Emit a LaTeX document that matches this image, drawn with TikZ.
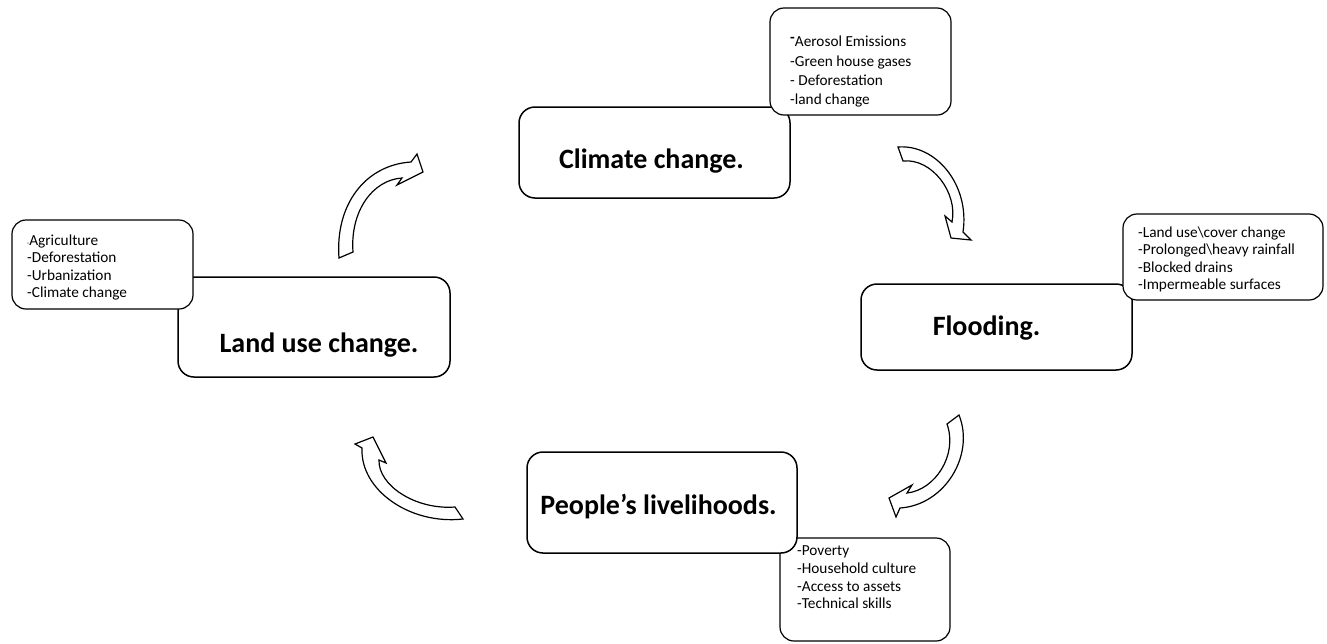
\documentclass[tikz,border=0pt]{standalone}
\usepackage{fontspec}
\setmainfont{Carlito}
\begin{document}
\begin{tikzpicture}[x=1pt,y=-1pt,
  mainbox/.style={draw, line width=1.5pt, rounded corners=16pt, fill=white, inner sep=0pt},
  notebox/.style={draw, line width=1.2pt, rounded corners=14pt, fill=white, inner sep=0pt},
  title/.style={font=\fontsize{28}{30}\selectfont\bfseries, anchor=base, inner sep=0pt},
  note/.style={font=\fontsize{15.3}{18}\selectfont, anchor=base west, inner sep=0pt},
  blockarrow/.style={draw, line width=1.2pt, fill=white, line join=miter}]
\useasboundingbox (0,0) rectangle (1327,643);

% Climate change with its causes
\node[mainbox, minimum width=271pt, minimum height=91pt] (climate) at (654.5,152.5) {};
\node[title] (climateT) at (651.5,168) {Climate change.};
\node[notebox, minimum width=181pt, minimum height=107pt] (climateN) at (860.5,61.5) {};
\node[note] (cn1) at (790,46) {\raisebox{4pt}{\bfseries -}Aerosol Emissions};
\node[note] (cn2) at (790,66) {-Green house gases};
\node[note] (cn3) at (790,85) {- Deforestation};
\node[note] (cn4) at (790,104) {-land change};

% Flooding with its causes
\node[mainbox, minimum width=271pt, minimum height=86pt] (flood) at (996.5,327) {};
\node[title] (floodT) at (986.5,335) {Flooding.};
\node[notebox, minimum width=200pt, minimum height=86pt] (floodN) at (1223,257) {};
\node[note] (fn1) at (1138,237) {-Land use\textbackslash cover change};
\node[note] (fn2) at (1138,254.5) {-Prolonged\textbackslash heavy rainfall};
\node[note] (fn3) at (1138,272) {-Blocked drains};
\node[note] (fn4) at (1138,289.5) {-Impermeable surfaces};

% People's livelihoods with its factors
\node[notebox, minimum width=170pt, minimum height=103pt] (peopleN) at (865,589.5) {};
\node[mainbox, minimum width=270pt, minimum height=101pt] (people) at (662,502.5) {};
\node[title] (peopleT) at (658.5,514) {People’s livelihoods.};
\node[note] (pn1) at (797,555) {-Poverty};
\node[note] (pn2) at (797,573) {-Household culture};
\node[note] (pn3) at (797,591) {-Access to assets};
\node[note] (pn4) at (797,608.5) {-Technical skills};

% Land use change with its drivers
\node[mainbox, minimum width=272pt, minimum height=100pt] (land) at (314,327) {};
\node[title] (landT) at (319,352) {Land use change.};
\node[notebox, minimum width=181pt, minimum height=89pt] (landN) at (102.5,264.5) {};
\node[note] (ln1) at (27,245) {{\fontsize{7}{7}\selectfont -}Agriculture};
\node[note] (ln2) at (27,262.5) {-Deforestation};
\node[note] (ln3) at (27,280) {-Urbanization};
\node[note] (ln4) at (27,297.5) {-Climate change};

% Curved block arrows of the cycle
\draw[blockarrow] (339,258) .. controls (335,205) and (365,165) .. (411,162)
  -- (417,154) -- (423,172) -- (397,185) -- (402,178)
  .. controls (372,180) and (350,212) .. (353,252) -- cycle;
\draw[blockarrow] (898,147) .. controls (936,144) and (970,185) .. (963,232)
  -- (971,240) -- (951,238) -- (945,216) -- (952,222)
  .. controls (958,193) and (932,158) .. (903,161) -- cycle;
\draw[blockarrow] (947,424) -- (959,415) .. controls (975,455) and (945,505) .. (900,508)
  -- (896,517) -- (889,498) -- (912,485) -- (907,493)
  .. controls (935,490) and (958,455) .. (947,424) -- cycle;
\draw[blockarrow] (455,507) -- (463,519) .. controls (410,525) and (360,490) .. (362,448)
  -- (355,444) -- (373,437) -- (386,463) -- (379,460)
  .. controls (378,485) and (415,510) .. (455,507) -- cycle;
\end{tikzpicture}
\end{document}
